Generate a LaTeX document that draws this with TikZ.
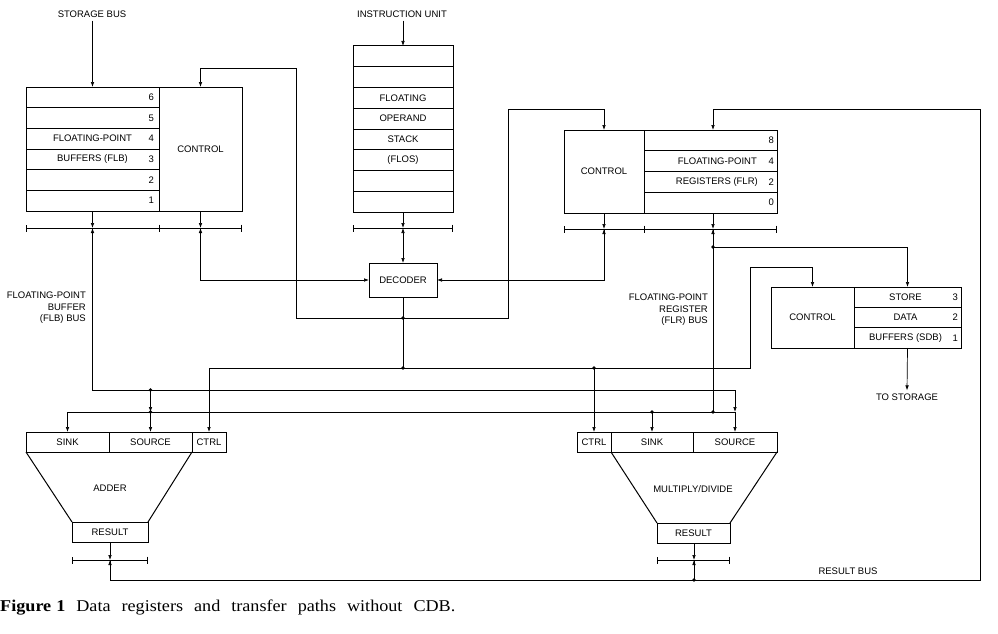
\documentclass[tikz,border=0pt]{standalone}
\usepackage{fontspec}
\setmainfont{Liberation Sans}
\newfontfamily\capfont[FakeStretch=1.1]{Liberation Serif}
\usepackage{tikz}
\usetikzlibrary{arrows.meta}
\usetikzlibrary{calc}

\newcommand\lbl{\fontsize{9.5}{11.5}\selectfont}

\tikzset{
  box/.style={draw, line width=1pt, inner sep=0pt, outer sep=0pt, font=\lbl},
  row/.style={line width=0.6pt},
  wire/.style={line width=0.7pt},
  tip/.style={wire, -{Latex[length=5pt,width=3.6pt]}},
  both/.style={wire, {Latex[length=5pt,width=3.6pt]}-{Latex[length=5pt,width=3.6pt]}},
  bus/.style={line width=0.9pt, {Bar[width=7pt]}-{Bar[width=7pt]}},
  tick/.style={line width=0.7pt},
  dot/.style={circle, fill, inner sep=0pt, minimum size=3.8pt},
  txt/.style={font=\lbl, inner sep=0pt},
  lab/.style={font=\lbl, inner sep=3pt},
}

\begin{document}
\begin{tikzpicture}[x=1pt,y=-1pt]
  \useasboundingbox (0,0) rectangle (998,634);

  % floating-point buffers
  \node[box, minimum width=133pt, minimum height=124pt] (flb) at (92.5,149) {};
  \node[box, minimum width=83pt, minimum height=124pt] (flbc) at (200.5,149) {CONTROL};
  \foreach \k in {1,...,5}
    \draw[row] ($(flb.north west)+(0,\k*20.67)$) -- ++(133,0);
  \foreach \k/\n in {0/6,1/5,2/4,3/3,4/2,5/1}
    \node[txt, anchor=east] (fbn\n) at ($(flb.north east)+(-5,\k*20.67+10.3)$) {\n};
  \node[txt] (fbt1) at ($(flb.north)+(0,2*20.67+10.3)$) {FLOATING-POINT};
  \node[txt] (fbt2) at ($(flb.north)+(0,3*20.67+10.3)$) {BUFFERS (FLB)};
  \node[lab] (stbus) at (92,14) {STORAGE BUS};
  \draw[tip] (stbus.south -| flb.north) -- (flb.north);

  % floating operand stack
  \node[box, minimum width=100pt, minimum height=166pt] (flos) at (403,129) {};
  \foreach \k in {1,...,7}
    \draw[row] ($(flos.north west)+(0,\k*20.75)$) -- ++(100,0);
  \foreach \k/\t in {2/FLOATING,3/OPERAND,4/STACK,5/{(FLOS)}}
    \node[txt] (fs\k) at ($(flos.north)+(0,\k*20.75+10.4)$) {\t};
  \node[lab] (iu) at (402,14) {INSTRUCTION UNIT};
  \draw[tip] (iu.south -| flos.north) -- (flos.north);

  % floating-point registers
  \node[box, minimum width=80pt, minimum height=83pt] (flrc) at (604,171.5) {CONTROL};
  \node[box, minimum width=133pt, minimum height=83pt] (flr) at (710.5,171.5) {};
  \foreach \k in {1,...,3}
    \draw[row] ($(flr.north west)+(0,\k*20.75)$) -- ++(133,0);
  \foreach \k/\n in {0/8,1/4,2/2,3/0}
    \node[txt, anchor=east] (frn\k) at ($(flr.north east)+(-3,\k*20.75+10.4)$) {\n};
  \node[txt, anchor=east] (frt1) at ($(flr.north east)+(-20,1*20.75+10.4)$) {FLOATING-POINT};
  \node[txt, anchor=east] (frt2) at ($(flr.north east)+(-19,2*20.75+10.4)$) {REGISTERS (FLR)};

  % store data buffers
  \node[box, minimum width=83pt, minimum height=61pt] (sdbc) at (812.5,317.5) {CONTROL};
  \node[box, minimum width=107pt, minimum height=61pt] (sdb) at (907.5,317.5) {};
  \foreach \k in {1,2}
    \draw[row] ($(sdb.north west)+(0,\k*20.33)$) -- ++(107,0);
  \foreach \k/\n in {0/3,1/2,2/1}
    \node[txt, anchor=east] (sdn\n) at ($(sdb.north east)+(-3,\k*20.33+10.2)$) {\n};
  \foreach \k/\t in {0/STORE,1/DATA,2/{BUFFERS (SDB)}}
    \node[txt] (sdt\k) at ($(sdb.north)+(-2,\k*20.33+10.2)$) {\t};
  \node[lab] (tost) at (907,397) {TO STORAGE};
  \draw[tip] (sdb.south) -- (tost.north);

  % decoder
  \node[box, minimum width=68pt, minimum height=34pt] (dec) at (403,280) {DECODER};

  % adder
  \node[box, minimum width=83pt, minimum height=20pt] (asink) at (67.5,442) {SINK};
  \node[box, minimum width=83pt, minimum height=20pt] (asrc) at (150.5,442) {SOURCE};
  \node[box, minimum width=34pt, minimum height=20pt] (actl) at (209,442) {CTRL};
  \node[box, minimum width=76pt, minimum height=20pt] (ares) at (110,532) {RESULT};
  \draw[line width=1pt] (asink.south west) -- (ares.north west);
  \draw[line width=1pt] (asrc.south east) -- (ares.north east);
  \node[txt] (adder) at (110,488) {ADDER};

  % multiply/divide
  \node[box, minimum width=34pt, minimum height=20pt] (mctl) at (594,442) {CTRL};
  \node[box, minimum width=82pt, minimum height=20pt] (msink) at (652,442) {SINK};
  \node[box, minimum width=84pt, minimum height=20pt] (msrc) at (735,442) {SOURCE};
  \node[box, minimum width=73pt, minimum height=20pt] (mres) at (693.5,533) {RESULT};
  \draw[line width=1pt] (msink.south west) -- (mres.north west);
  \draw[line width=1pt] (msrc.south east) -- (mres.north east);
  \node[txt] (muldiv) at (693,489) {MULTIPLY/DIVIDE};

  % buses
  \coordinate (flbA) at (92.5,228);
  \coordinate (flbB) at (flbc.south |- flbA);
  \coordinate (flosA) at (flos.south |- flbA);
  \coordinate (flrA) at (604,229);
  \coordinate (flrB) at (713,229);
  \coordinate (addA) at (110,560);
  \coordinate (mulA) at (694,560);
  \draw[bus] (flb.west |- flbA) -- (flbc.east |- flbA);
  \draw[tick] ($(flb.south east |- flbA)+(0,-3.5)$) -- ++(0,7);
  \draw[bus] (flos.west |- flosA) -- (flos.east |- flosA);
  \draw[bus] (flrc.west |- flrA) -- (flr.east |- flrA);
  \draw[tick] ($(flr.south west |- flrA)+(0,-3.5)$) -- ++(0,7);
  \draw[bus] (ares.west |- addA) -- (ares.east |- addA);
  \draw[bus] (mres.west |- mulA) -- (mres.east |- mulA);
  \foreach \t/\s in {flbA/flb, flbB/flbc, flosA/flos, flrA/flrc, flrB/flr, addA/ares, mulA/mres}
    \draw[tip] (\s.south -| \t) -- (\t);
  \foreach \t in {flbA, flbB, flrA, flrB, addA, mulA}
    \draw[tip] ($(\t)+(0,11)$) -- (\t);
  \node[lab, align=right, anchor=east] (flblab) at (89,308) {FLOATING-POINT\\BUFFER\\(FLB) BUS};
  \node[lab, align=right, anchor=east] (flrlab) at (711,310) {FLOATING-POINT\\REGISTER\\(FLR) BUS};

  % decoder paths
  \coordinate (dj) at (403,318);
  \coordinate (ctl) at (403,368);
  \coordinate (lup) at (296,68);
  \coordinate (rup) at (508,109);
  \coordinate (sup) at (750,267);
  \draw[both] (flosA) -- (dec.north);
  \draw[tip] (flbB) |- (dec.west);
  \draw[tip] (flrA) |- (dec.east);
  \draw[wire] (dec.south) -- (ctl);
  \draw[tip] (dj) -| (lup) -| (flbc.north);
  \draw[tip] (dj) -| (rup) -| (flrc.north);
  \draw[tip] (ctl) -| (actl.north);
  \draw[tip] (ctl) -| (sup) -| (sdbc.north);
  \draw[tip] (mctl.north |- ctl) -- (mctl.north);
  \node[dot] (d1) at (dj) {};
  \node[dot] (d2) at (ctl) {};
  \node[dot] (d3) at (mctl.north |- ctl) {};

  % buffer bus and register bus
  \coordinate (fb) at (92.5,390);
  \coordinate (fr) at (713,412);
  \draw[wire] (flbA) |- (msrc.north |- fb);
  \draw[tip] (msrc.north |- fb) -- (msrc.north |- fr);
  \draw[tip] (msrc.north |- fr) -- (msrc.north);
  \draw[tip] (asrc.north |- fb) -- (asrc.north |- fr);
  \draw[tip] (asrc.north |- fr) -- (asrc.north);
  \draw[wire] (flrB) -- (fr);
  \draw[tip] (msrc.north |- fr) -| (asink.north);
  \draw[tip] (msink.north |- fr) -- (msink.north);
  \node[dot] (d4) at (asrc.north |- fb) {};
  \node[dot] (d5) at (asrc.north |- fr) {};
  \node[dot] (d6) at (msink.north |- fr) {};
  \node[dot] (d7) at (fr) {};
  \coordinate (sj) at (713,247);
  \draw[tip] (sj) -| (sdb.north);
  \node[dot] (d8) at (sj) {};

  % result bus
  \coordinate (rc) at (980,580);
  \coordinate (rtop) at (713,109);
  \draw[tip] (addA) |- (rc) |- (rtop) -- (flr.north -| rtop);
  \draw[wire] (mulA) -- (mulA |- rc);
  \node[dot] (d9) at (mulA |- rc) {};
  \node[lab] (rbus) at (848,571) {RESULT BUS};

  \node[anchor=base west, inner sep=0pt] (cap) at (0,611)
    {\capfont\fontsize{16.5}{18}\selectfont\textbf{Figure\hspace{5pt}1}\spaceskip=11pt plus 2pt
     \ Data registers and transfer paths without CDB.};
\end{tikzpicture}
\end{document}
